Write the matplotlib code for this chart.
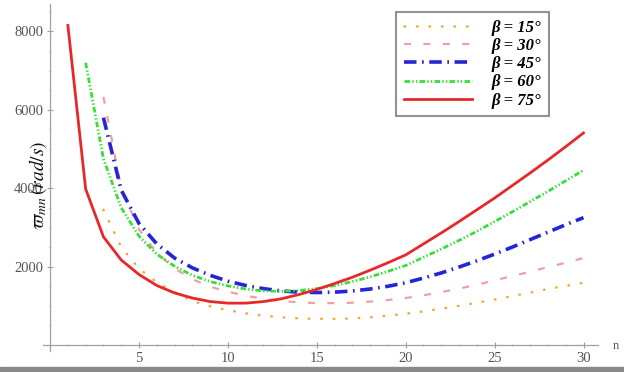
import numpy as np
import matplotlib
matplotlib.use('Agg')
import matplotlib.pyplot as plt
from matplotlib.patches import Rectangle
from matplotlib.ticker import MultipleLocator

# mode number n and the frequency for each beta angle (rad/s)
n_75 = list(range(1, 31))
w_75 = [8150, 3980, 2760, 2170, 1800, 1520, 1330, 1200, 1110, 1070,
        1070, 1110, 1180, 1290, 1420, 1570, 1730, 1910, 2100, 2300,
        2580, 2860, 3150, 3450, 3750, 4070, 4390, 4720, 5060, 5410]

n_60 = list(range(2, 31))
w_60 = [7200, 4750, 3500, 2780, 2320, 2010, 1780, 1620, 1510,
        1430, 1380, 1370, 1390, 1440, 1520, 1620, 1740, 1880, 2030,
        2240, 2450, 2670, 2900, 3150, 3400, 3660, 3920, 4190, 4460]

n_45 = list(range(3, 31))
w_45 = [5800, 3950, 3100, 2580, 2220, 1970, 1780, 1630,
        1520, 1440, 1380, 1350, 1340, 1350, 1380, 1430, 1500, 1590,
        1710, 1840, 1990, 2150, 2320, 2500, 2690, 2880, 3070, 3250]

n_30 = list(range(3, 31))
w_30 = [6330, 4000, 2950, 2350, 1950, 1680, 1490, 1360,
        1260, 1180, 1120, 1090, 1070, 1070, 1080, 1110, 1150, 1200,
        1270, 1350, 1440, 1540, 1650, 1760, 1870, 1990, 2100, 2220]

n_15 = list(range(3, 31))
w_15 = [3450, 2500, 1950, 1600, 1350, 1120, 990, 890,
        810, 750, 710, 680, 670, 670, 680, 710, 750, 800,
        860, 930, 1000, 1080, 1160, 1250, 1340, 1430, 1510, 1590]

labels = ['β = 15°', 'β = 30°', 'β = 45°', 'β = 60°', 'β = 75°']

plt.rcParams['lines.scale_dashes'] = False
plt.rcParams['mathtext.fontset'] = 'stix'

fig = plt.figure(figsize=(6.24, 3.72), dpi=100)
ax = fig.add_axes([0.0689, 0.0565, 0.889, 0.933])

ax.plot(n_15, w_15, color='#f5a830', lw=1.8, dashes=(0.4, 8.6),
        dash_capstyle='round', label=labels[0])
ax.plot(n_30, w_30, color='#f0a0a0', lw=1.6, dashes=(5, 9), label=labels[1])
ax.plot(n_45, w_45, color='#2424d8', lw=2.6, dashes=(9, 4, 1.2, 4), label=labels[2])
ax.plot(n_60, w_60, color='#36e036', lw=2.0, dashes=(4, 1.6, 1, 1.6, 1, 1.6), label=labels[3])
ax.plot(n_75, w_75, color='#e82828', lw=2.0, label=labels[4])

ax.set_xlim(-0.4, 30.8)
ax.set_ylim(-150, 8700)

# axes drawn through the origin
for side in ['top', 'right']:
    ax.spines[side].set_visible(False)
ax.spines['left'].set_position(('data', 0))
ax.spines['bottom'].set_position(('data', 0))
for side in ['left', 'bottom']:
    ax.spines[side].set_color('#a0a0a0')
    ax.spines[side].set_linewidth(0.9)

ax.set_xticks([5, 10, 15, 20, 25, 30])
ax.set_yticks([2000, 4000, 6000, 8000])
ax.xaxis.set_minor_locator(MultipleLocator(1))
ax.yaxis.set_minor_locator(MultipleLocator(500))
ax.tick_params(which='major', direction='inout', length=4, color='#a0a0a0',
               labelsize=10.5, labelcolor='#555555', pad=3)
ax.tick_params(which='minor', direction='inout', length=2, color='#b8b8b8')
for lab in ax.get_xticklabels() + ax.get_yticklabels():
    lab.set_family('Liberation Serif')

fig.text(38 / 624, 1 - 185 / 372, r'$\varpi_{mn}\,(rad/s)$', rotation=90,
         fontsize=14, ha='center', va='center', color='#111111')
fig.text(616 / 624, 1 - 346 / 372, 'n', fontsize=9, family='Liberation Serif',
         color='#555555', ha='center', va='center')

leg = ax.legend(loc='upper left', bbox_to_anchor=(396 / 624, 1 - 12 / 372),
                bbox_transform=fig.transFigure, borderaxespad=0, fancybox=False,
                handlelength=4.1, handletextpad=1.2, labelspacing=0.14,
                borderpad=0.45, prop={'family': 'Liberation Serif', 'size': 12,
                                      'weight': 'bold', 'style': 'italic'})
leg.get_frame().set_edgecolor('#777777')
leg.get_frame().set_linewidth(1.5)

# grey strip along the bottom edge
fig.patches.append(Rectangle((0, 0), 1, 5 / 372, transform=fig.transFigure,
                             color='#8a8a8a', zorder=0))

fig.savefig('out.png', dpi=100)
